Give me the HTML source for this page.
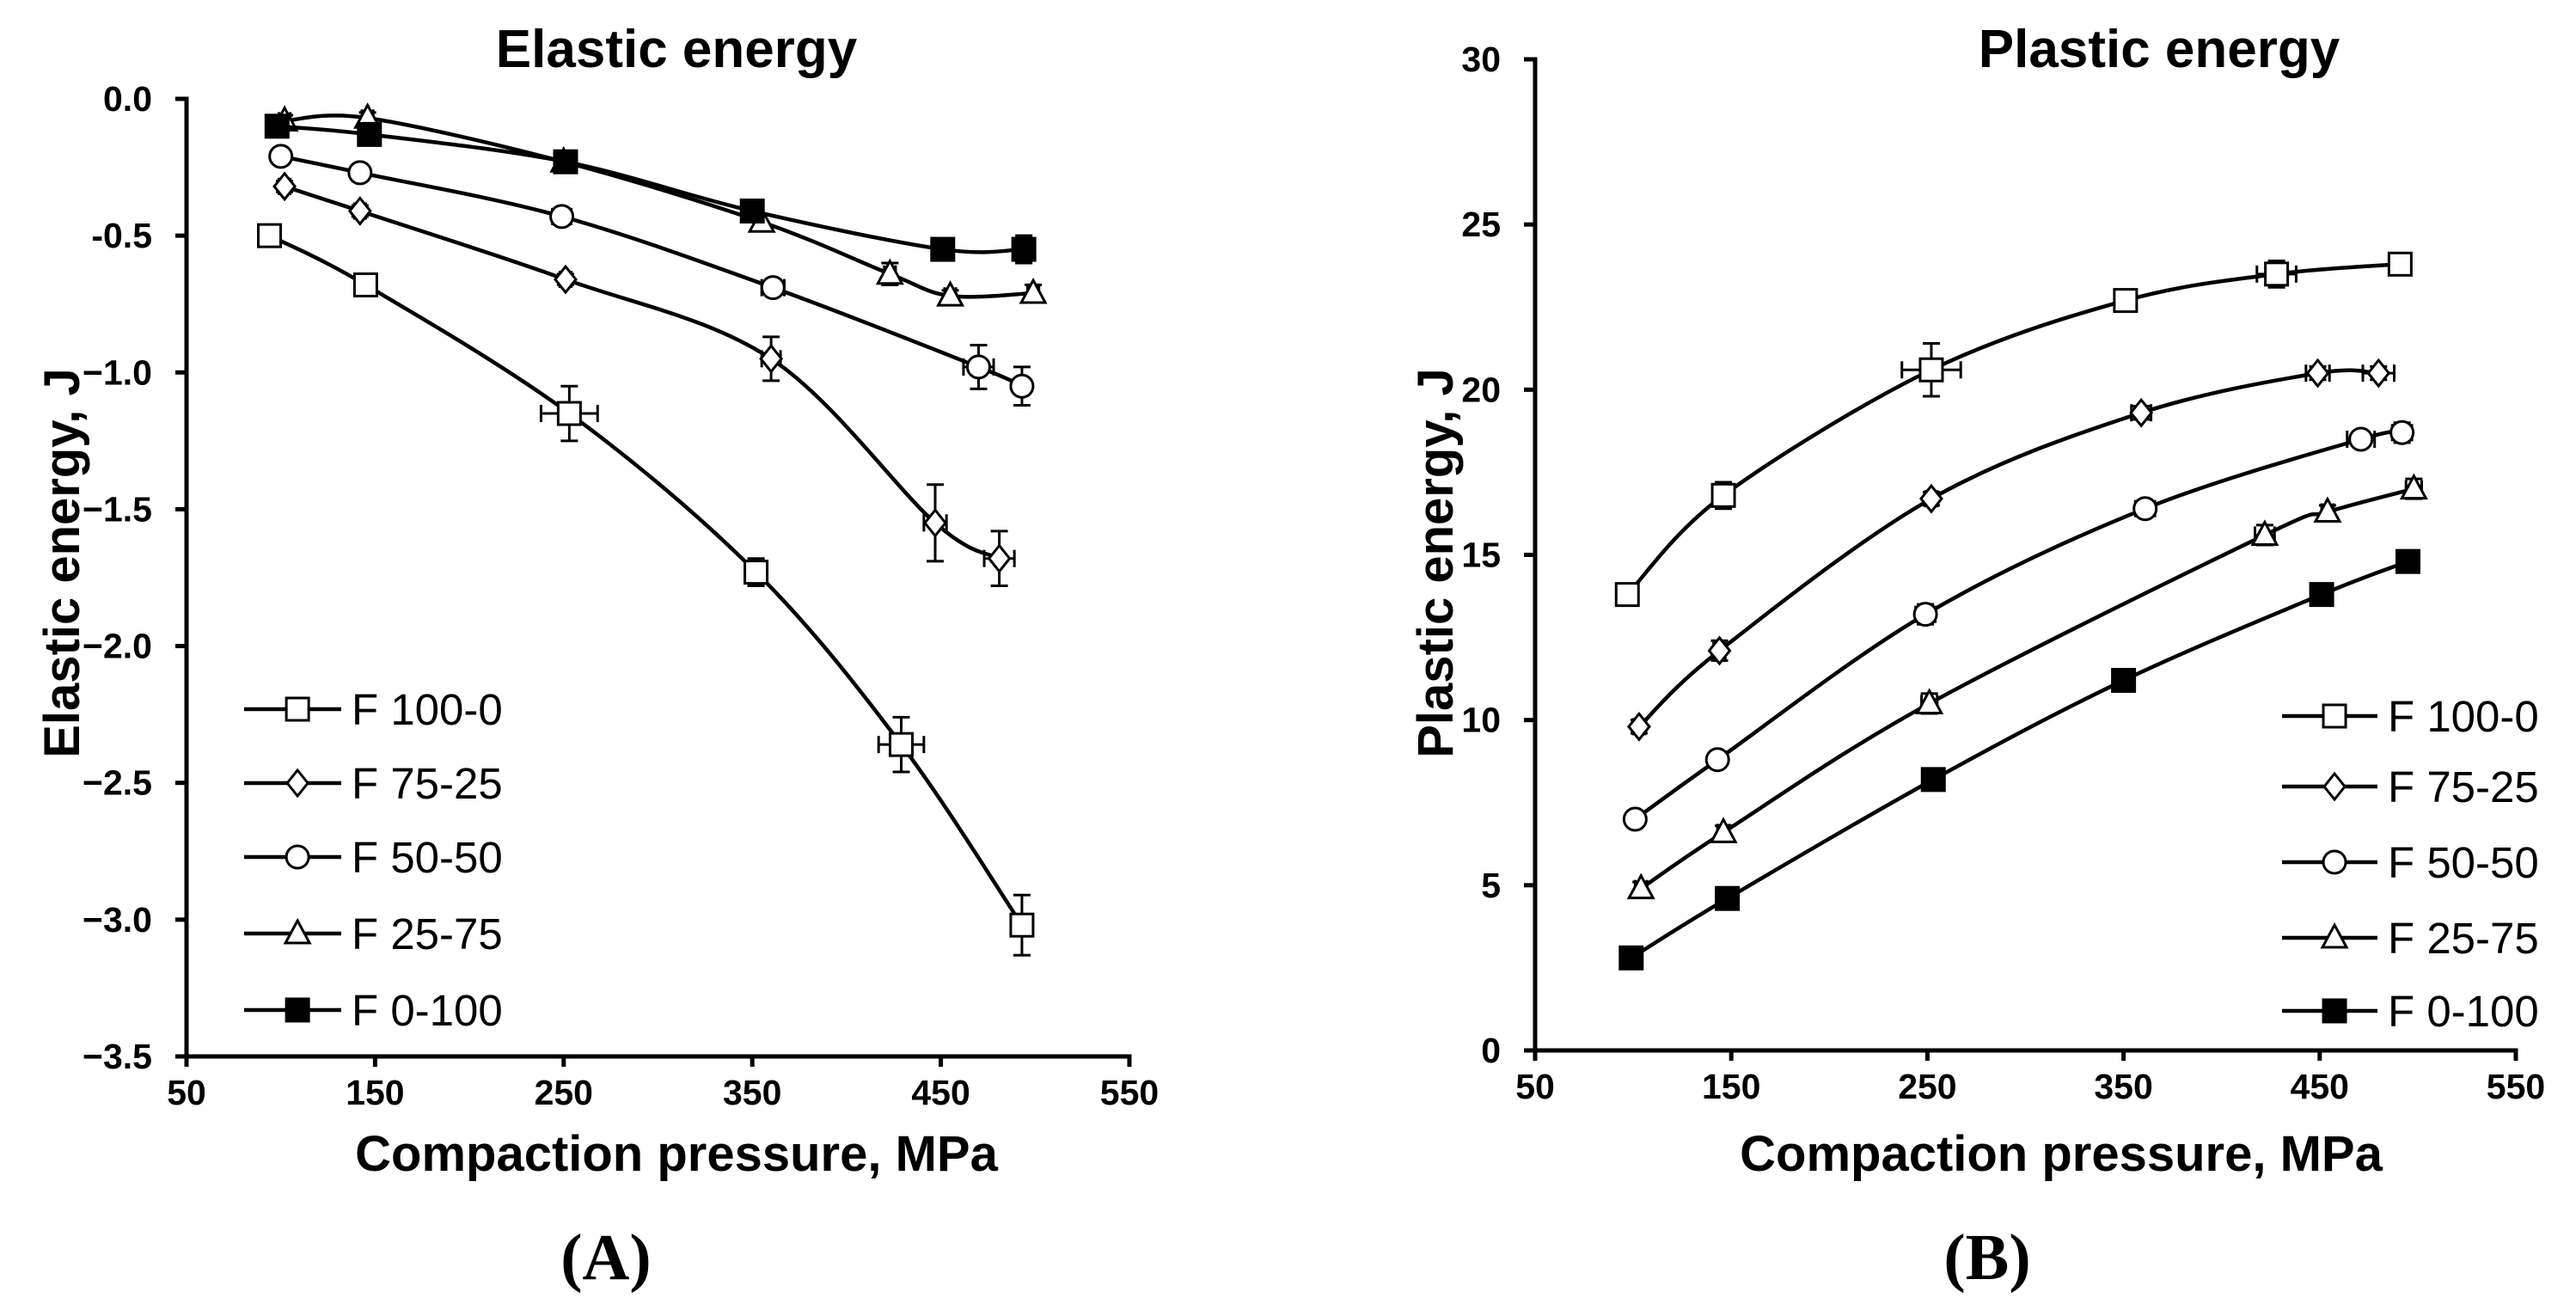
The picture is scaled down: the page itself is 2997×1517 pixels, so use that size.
<!DOCTYPE html>
<html><head><meta charset="utf-8"><style>
body{margin:0;background:#fff;}
svg{display:block;font-family:"Liberation Sans",Arial,sans-serif;}
</style></head><body>
<svg id="fig" width="2997" height="1517" viewBox="0 0 2997 1517" xmlns="http://www.w3.org/2000/svg"></svg>
<script>
const seriesNames = ["F 100-0","F 75-25","F 50-50","F 25-75","F 0-100"];
const markerTypes = ["square","diamond","circle","triangle","filledsquare"];
const xTicks = [50,150,250,350,450,550];
const yTicksA = [0,-0.5,-1,-1.5,-2,-2.5,-3,-3.5];
const yTickLabelsA = ["0.0","-0.5","\u22121.0","\u22121.5","\u22122.0","\u22122.5","\u22123.0","\u22123.5"];
const yTicksB = [0,5,10,15,20,25,30];
const yTickLabelsB = ["0","5","10","15","20","25","30"];
// Elastic energy
const elasticX = [
 [94,145,253,352,429,493],
 [102,142,251,360,447,481],
 [100,142,249,361,470,493],
 [102,146,250,355,423,455,499],
 [98,147,251,350,451,494]];
const elasticY = [
 [-0.50,-0.68,-1.15,-1.73,-2.36,-3.02],
 [-0.32,-0.41,-0.66,-0.95,-1.55,-1.68],
 [-0.21,-0.27,-0.43,-0.69,-0.98,-1.05],
 [-0.08,-0.07,-0.23,-0.45,-0.64,-0.72,-0.71],
 [-0.10,-0.13,-0.23,-0.41,-0.55,-0.55]];
const elasticYErr = [
 [0.02,0.02,0.10,0.05,0.10,0.11],
 [0.02,0.02,0.02,0.08,0.14,0.10],
 [0.02,0.02,0.03,0.02,0.08,0.07],
 [0.02,0.02,0.02,0,0.04,0.02,0.03],
 [0.02,0.03,0.03,0.03,0.03,0.05]];
const elasticXErr = [
 [3,3,15,5,12,3],
 [3,3,3,5,6,8],
 [3,4,5,6,8,4],
 [3,3,3,0,3,3,3],
 [3,4,4,4,5,3]];
// Plastic energy
const plasticX = [
 [97,146,252,351,428,491],
 [103,144,252,359,449,480],
 [101,143,249,361,471,492],
 [104,146,251,422,454,498],
 [99,148,253,350,451,495]];
const plasticY = [
 [13.8,16.8,20.6,22.7,23.5,23.8],
 [9.8,12.1,16.7,19.3,20.5,20.5],
 [7.0,8.8,13.2,16.4,18.5,18.7],
 [4.9,6.6,10.5,15.6,16.3,17.0],
 [2.8,4.6,8.2,11.2,13.8,14.8]];
const plasticYErr = [
 [0.3,0.4,0.8,0.2,0.4,0.3],
 [0.2,0.3,0.2,0.2,0.2,0.2],
 [0.2,0.2,0.3,0.2,0.2,0.3],
 [0.2,0.2,0.3,0.3,0.2,0.3],
 [0.2,0.2,0.3,0.2,0.2,0.3]];
const plasticXErr = [
 [5,5,15,5,10,5],
 [3,3,3,5,6,8],
 [3,3,5,5,7,5],
 [3,3,4,5,3,4],
 [3,3,3,4,4,3]];

const NS="http://www.w3.org/2000/svg";
const svg=document.getElementById('fig');
function mk(tag,attrs,parent){const e=document.createElementNS(NS,tag);for(const k in attrs)e.setAttribute(k,attrs[k]);(parent||svg).appendChild(e);return e;}
function txt(s,attrs,parent){const e=mk('text',attrs,parent);e.textContent=s;return e;}

function spline(pts){
  let d=`M${pts[0][0]},${pts[0][1]}`;
  for(let i=0;i<pts.length-1;i++){
    const p0=pts[Math.max(0,i-1)],p1=pts[i],p2=pts[i+1],p3=pts[Math.min(pts.length-1,i+2)];
    const t=1/6;
    const c1=[p1[0]+(p2[0]-p0[0])*t,p1[1]+(p2[1]-p0[1])*t];
    const c2=[p2[0]-(p3[0]-p1[0])*t,p2[1]-(p3[1]-p1[1])*t];
    d+=` C${c1[0]},${c1[1]} ${c2[0]},${c2[1]} ${p2[0]},${p2[1]}`;
  }
  return d;
}
function marker(type,cx,cy,g){
  const s=13;
  if(type==='square'||type==='filledsquare')return mk('rect',{x:cx-s,y:cy-s,width:2*s,height:2*s,fill:type==='filledsquare'?'#000':'#fff',stroke:'#000','stroke-width':3},g);
  if(type==='diamond')return mk('polygon',{points:`${cx},${cy-15} ${cx+12},${cy} ${cx},${cy+15} ${cx-12},${cy}`,fill:'#fff',stroke:'#000','stroke-width':3},g);
  if(type==='circle')return mk('circle',{cx:cx,cy:cy,r:13,fill:'#fff',stroke:'#000','stroke-width':3},g);
  if(type==='triangle')return mk('polygon',{points:`${cx},${cy-15} ${cx+14},${cy+11} ${cx-14},${cy+11}`,fill:'#fff',stroke:'#000','stroke-width':3},g);
}

function chart(o){
  const xs=v=>o.x0+(v-50)/500*(o.x1-o.x0);
  const ys=v=>o.yb-(v-o.ymin)/(o.ymax-o.ymin)*(o.yb-o.yt);
  const g=mk('g',{});
  
  
  const ax=mk('path',{d:`M${o.x0-13},${o.yt} H${o.x0} V${o.yb} H${o.x1} V${o.yb+12}`,fill:'none',stroke:'#000','stroke-width':5},g);
  
  
  o.yTicks.forEach((v,i)=>{
    const y=ys(v);
    mk('line',{x1:o.x0-13,x2:o.x0,y1:y,y2:y,stroke:'#000','stroke-width':5},g);
    const t=txt(o.yLabels[i],{x:o.x0-40,y:y+14,'text-anchor':'end','font-size':41,'font-weight':'bold'},g);
    
    
  });
  xTicks.forEach(v=>{
    const x=xs(v);
    mk('line',{x1:x,x2:x,y1:o.yb,y2:o.yb+12,stroke:'#000','stroke-width':5},g);
    const t=txt(String(v),{x:x,y:o.yb+56,'text-anchor':'middle','font-size':41,'font-weight':'bold'},g);
    
    
  });
  const tt=txt(o.title,{x:o.titleX,y:o.titleY,'text-anchor':'middle','font-size':62,'font-weight':'bold'},g);
  
  
  const xt=txt('Compaction pressure, MPa',{x:o.xTitleX,y:1362,'text-anchor':'middle','font-size':58,'font-weight':'bold'},g);
  
  
  const yt=txt(o.yTitle,{x:0,y:0,'text-anchor':'middle','font-size':58,'font-weight':'bold',transform:`translate(${o.yTitleX},${o.yTitleY}) rotate(-90)`},g);
  
  
  const pl=txt(o.panel,{x:o.panelX,y:1488,'text-anchor':'middle','font-size':76,'font-weight':'bold','font-family':'"Liberation Serif",serif'},g);
  
  
  for(let s=0;s<5;s++){
    const sg=mk('g',{},g);
    
    
    const pts=o.X[s].map((v,i)=>[xs(v),ys(o.Y[s][i])]);
    mk('path',{d:spline(pts),fill:'none',stroke:'#000','stroke-width':4.5},sg);
    pts.forEach((p,i)=>{
      const ey=o.YE[s][i]*(o.yb-o.yt)/(o.ymax-o.ymin), ex=o.XE[s][i]*(o.x1-o.x0)/500;
      if(ey>0){
        mk('line',{x1:p[0],x2:p[0],y1:p[1]-ey,y2:p[1]+ey,stroke:'#000','stroke-width':3},sg);
        mk('line',{x1:p[0]-10,x2:p[0]+10,y1:p[1]-ey,y2:p[1]-ey,stroke:'#000','stroke-width':3},sg);
        mk('line',{x1:p[0]-10,x2:p[0]+10,y1:p[1]+ey,y2:p[1]+ey,stroke:'#000','stroke-width':3},sg);
      }
      if(ex>0){
        mk('line',{x1:p[0]-ex,x2:p[0]+ex,y1:p[1],y2:p[1],stroke:'#000','stroke-width':3},sg);
        mk('line',{x1:p[0]-ex,x2:p[0]-ex,y1:p[1]-10,y2:p[1]+10,stroke:'#000','stroke-width':3},sg);
        mk('line',{x1:p[0]+ex,x2:p[0]+ex,y1:p[1]-10,y2:p[1]+10,stroke:'#000','stroke-width':3},sg);
      }
      const m=marker(markerTypes[s],p[0],p[1],sg);
      
      
    });
  }
  const lg=mk('g',{},g);
  
  
  o.legendY.forEach((y,s)=>{
    const eg=mk('g',{},lg);
    
    
    mk('line',{x1:o.legX0,x2:o.legX1,y1:y,y2:y,stroke:'#000','stroke-width':4.5},eg);
    marker(markerTypes[s],(o.legX0+o.legX1)/2+(o.legX1-o.legX0)*0.05,y,eg);
    txt(seriesNames[s],{x:o.legX1+12,y:y+18,'font-size':51},eg);
  });
}
chart({name:'elastic-energy-chart',x0:217,x1:1314,yt:115,yb:1229,ymin:-3.5,ymax:0,
  yTicks:yTicksA,yLabels:yTickLabelsA,X:elasticX,Y:elasticY,YE:elasticYErr,XE:elasticXErr,
  title:'Elastic energy',titleX:787,titleY:78,xTitleX:787,yTitle:'Elastic energy, J',yTitleX:92,yTitleY:655,
  panel:'(A)',panelX:705,legendY:[825,911,997,1086,1175],legX0:284,legX1:397});
chart({name:'plastic-energy-chart',x0:1786,x1:2927,yt:69,yb:1222,ymin:0,ymax:30,
  yTicks:yTicksB,yLabels:yTickLabelsB,X:plasticX,Y:plasticY,YE:plasticYErr,XE:plasticXErr,
  title:'Plastic energy',titleX:2512,titleY:78,xTitleX:2398,yTitle:'Plastic energy, J',yTitleX:1690,yTitleY:655,
  panel:'(B)',panelX:2312,legendY:[833,915,1003,1091,1176],legX0:2655,legX1:2766});
</script>
</body></html>
